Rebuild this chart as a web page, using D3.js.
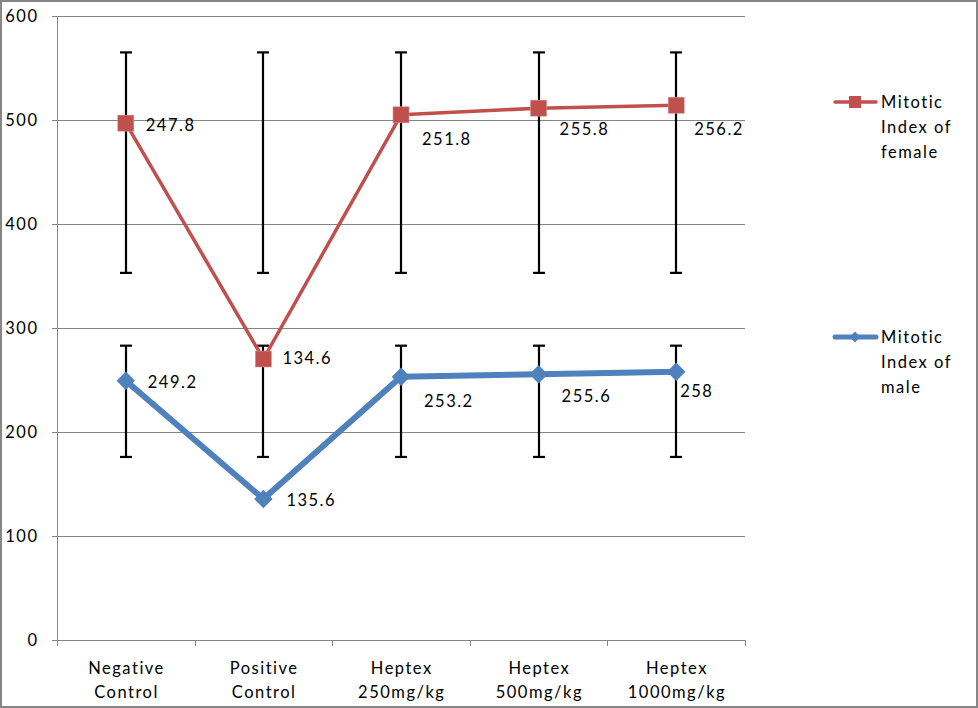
<!DOCTYPE html>
<html><head><meta charset="utf-8">
<script src="https://cdn.jsdelivr.net/npm/d3@7"></script>
<style>
body{margin:0;background:#fff;}
svg{display:block;font-family:Lato,"Open Sans",sans-serif;}
svg text{letter-spacing:1.5px;}
</style></head>
<body><svg id="c" width="978" height="708"></svg>
<script>
const categories = [["Negative","Control"],["Positive","Control"],["Heptex","250mg/kg"],["Heptex","500mg/kg"],["Heptex","1000mg/kg"]];
const maleValues = [249.2, 135.6, 253.2, 255.6, 258];
const femaleValues = [247.8, 134.6, 251.8, 255.8, 256.2];
const maleErrLow = [176, 176, 176, 176, 176];
const maleErrHigh = [283, 283, 283, 283, 283];
const femaleErrLow = [353, 353, 353, 353, 353];
const femaleErrHigh = [565, 565, 565, 565, 565];
const yTicks = [0, 100, 200, 300, 400, 500, 600];
const seriesNames = [["Mitotic","Index of","female"],["Mitotic","Index of","male"]];

// label layout offsets (styling, not data)
const femaleLabelOff = [[20,2],[19,-1],[21,24],[21,21],[18,24]];
const maleLabelOff = [[22,1],[23,1],[23,25],[23,22],[4,20]];

const FS = 16.5;
const svg = d3.select("#c");
const W = 978, H = 708;
const pL = 57, pR = 745, pT = 16, pB = 640;
const x = d3.scaleBand().domain(d3.range(categories.length)).range([pL, pR]);
const y = d3.scaleLinear().domain([0, 600]).range([pB, pT]);
const cx = i => x(i) + x.bandwidth() / 2;

const femaleStacked = femaleValues.map((v, i) => v + maleValues[i]);

// outer border
svg.append("rect").attr("x",1).attr("y",1).attr("width",W-2).attr("height",H-2)
  .attr("fill","#fff").attr("stroke","#868686").attr("stroke-width",2);

// gridlines
svg.append("g").selectAll("line").data(yTicks.filter(d => d > 0)).join("line")
  .attr("x1", pL).attr("x2", pR).attr("y1", d => y(d)).attr("y2", d => y(d))
  .attr("stroke", "#868686").attr("stroke-width", 1).attr("shape-rendering","crispEdges");

// y axis
const yAxis = svg.append("g").attr("transform", `translate(${pL},0)`)
  .call(d3.axisLeft(y).tickValues(yTicks).tickSize(5).tickPadding(13.5));
yAxis.select(".domain").attr("stroke","#868686").attr("shape-rendering","crispEdges");
yAxis.selectAll(".tick line").attr("stroke","#868686").attr("shape-rendering","crispEdges");
yAxis.selectAll("text").attr("font-size",FS).attr("fill","#000").attr("font-family","Lato,'Open Sans',sans-serif");

// x axis
const xb = d3.scaleLinear().domain([0, categories.length]).range([pL, pR]);
const xAxis = svg.append("g").attr("transform", `translate(0,${pB})`)
  .call(d3.axisBottom(xb).ticks(categories.length).tickSize(6).tickFormat(""));
xAxis.select(".domain").attr("stroke","#868686").attr("shape-rendering","crispEdges");
xAxis.selectAll(".tick line").attr("stroke","#868686").attr("shape-rendering","crispEdges");

const xl = svg.append("g").selectAll("text").data(categories).join("text")
  .attr("x", (d, i) => cx(i) + 0.75).attr("y", 674).attr("text-anchor","middle")
  .attr("font-size",FS).attr("fill","#000");
xl.selectAll("tspan").data(d => d).join("tspan")
  .attr("x", function(){ return d3.select(this.parentNode).attr("x"); })
  .attr("dy", (d, j) => j === 0 ? 0 : 24).text(d => d);

// error bars
function errBars(lo, hi) {
  const g = svg.append("g").attr("stroke","#000").attr("stroke-width",2.2);
  lo.forEach((l, i) => {
    const X = Math.round(cx(i)) ;
    g.append("line").attr("x1",X).attr("x2",X).attr("y1",y(hi[i])).attr("y2",y(l));
    g.append("line").attr("x1",X-6).attr("x2",X+6).attr("y1",y(hi[i])).attr("y2",y(hi[i]));
    g.append("line").attr("x1",X-6).attr("x2",X+6).attr("y1",y(l)).attr("y2",y(l));
  });
}
errBars(femaleErrLow, femaleErrHigh);
errBars(maleErrLow, maleErrHigh);

const red = "#C0504D", blue = "#4F81BD";
const line = d3.line().x((d, i) => cx(i)).y(d => y(d));

// male series
svg.append("path").datum(maleValues).attr("d", line).attr("fill","none")
  .attr("stroke", blue).attr("stroke-width", 6).attr("stroke-linejoin","round");
svg.append("g").selectAll("path").data(maleValues).join("path")
  .attr("d", d3.symbol().type(d3.symbolSquare).size(170))
  .attr("transform", (d, i) => `translate(${cx(i)},${y(d)}) rotate(45)`)
  .attr("fill", blue);

// female series (stacked)
svg.append("path").datum(femaleStacked).attr("d", line).attr("fill","none")
  .attr("stroke", red).attr("stroke-width", 3.5).attr("stroke-linejoin","round");
svg.append("g").selectAll("rect").data(femaleStacked).join("rect")
  .attr("x", (d, i) => cx(i) - 8).attr("y", d => y(d) - 8)
  .attr("width", 16).attr("height", 16).attr("fill", red).attr("stroke","#d8908e").attr("stroke-width",0.6);

// data labels
svg.append("g").selectAll("text").data(femaleValues).join("text")
  .attr("x", (d, i) => cx(i) + femaleLabelOff[i][0])
  .attr("y", (d, i) => y(femaleStacked[i]) + femaleLabelOff[i][1])
  .attr("dy","0.35em").attr("font-size",FS).attr("fill","#000").text(d => d);
svg.append("g").selectAll("text").data(maleValues).join("text")
  .attr("x", (d, i) => cx(i) + maleLabelOff[i][0])
  .attr("y", (d, i) => y(d) + maleLabelOff[i][1])
  .attr("dy","0.35em").attr("font-size",FS).attr("fill","#000").text(d => d);

// legend
const legY = [102, 337];
const legColor = [red, blue];
seriesNames.forEach((name, k) => {
  const g = svg.append("g");
  g.append("line").attr("x1",835).attr("x2",876).attr("y1",legY[k]).attr("y2",legY[k])
    .attr("stroke", legColor[k]).attr("stroke-width", k === 0 ? 3.5 : 5).attr("stroke-linecap","round");
  if (k === 0) {
    g.append("rect").attr("x",849).attr("y",legY[k]-6).attr("width",12).attr("height",12).attr("fill",red);
  } else {
    g.append("path").attr("d", d3.symbol().type(d3.symbolSquare).size(60))
      .attr("transform", `translate(855,${legY[k]}) rotate(45)`).attr("fill", blue);
  }
  const t = g.append("text").attr("x",881).attr("y",legY[k]).attr("font-size",FS).attr("fill","#000");
  t.selectAll("tspan").data(name).join("tspan").attr("x",881).attr("dy",(d,j)=> j===0 ? "0.35em" : 25).text(d=>d);
});
</script></body></html>
